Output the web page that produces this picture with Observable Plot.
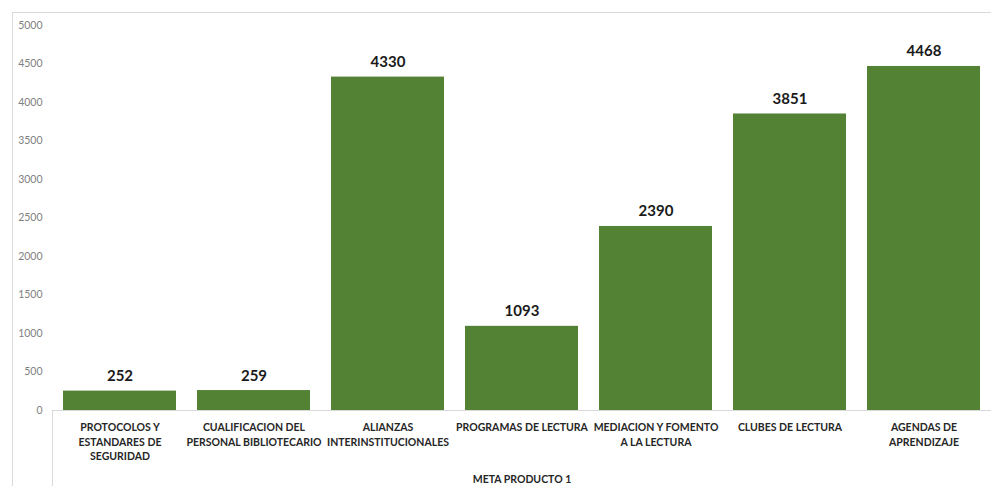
<!DOCTYPE html>
<html>
<head>
<meta charset="utf-8">
<script src="https://cdn.jsdelivr.net/npm/d3@7"></script>
<script src="https://cdn.jsdelivr.net/npm/@observablehq/plot@0.6"></script>
<style>
  html, body { margin: 0; padding: 0; background: #fff; }
  #wrap { position: relative; width: 991px; height: 486px; overflow: hidden; font-family: Lato, "Liberation Sans", sans-serif; }
  #border { position: absolute; left: 12px; top: 12px; right: -2px; bottom: -2px; border-top: 1px solid #d9d9d9; border-left: 1px solid #d9d9d9; }
  #sep { position: absolute; left: 52px; top: 410px; bottom: -2px; width: 0; border-left: 1px solid #d9d9d9; }
  #chart { position: absolute; left: 0; top: 0; }
</style>
</head>
<body>
<div id="wrap">
  <div id="border"></div>
  <div id="sep"></div>
  <div id="chart"></div>
</div>
<script>
const categories = [
  "PROTOCOLOS Y\nESTANDARES DE\nSEGURIDAD",
  "CUALIFICACION DEL\nPERSONAL BIBLIOTECARIO",
  "ALIANZAS\nINTERINSTITUCIONALES",
  "PROGRAMAS DE LECTURA",
  "MEDIACION Y FOMENTO\nA LA LECTURA",
  "CLUBES DE LECTURA",
  "AGENDAS DE\nAPRENDIZAJE"
];
const values = [252, 259, 4330, 1093, 2390, 3851, 4468];
const yTicks = [0, 500, 1000, 1500, 2000, 2500, 3000, 3500, 4000, 4500, 5000];
const groupLabel = "META PRODUCTO 1";

const data = categories.map((c, i) => ({category: c, value: values[i]}));

const chart = Plot.plot({
  width: 991,
  height: 486,
  marginTop: 25,
  marginBottom: 76,
  marginLeft: 52,
  marginRight: 0,
  style: {fontFamily: "Lato, 'Liberation Sans', sans-serif", background: "transparent"},
  x: {domain: categories, paddingInner: 0.16, paddingOuter: 0.074},
  y: {domain: [0, 5000]},
  marks: [
    Plot.ruleY([0], {stroke: "#d9d9d9"}),
    Plot.barY(data, {x: "category", y: "value", fill: "#548235"}),
    Plot.text(data, {x: "category", y: "value", text: d => String(d.value), dy: -10, lineAnchor: "bottom", fontSize: 15, fontWeight: "bold", fill: "#1a1a1a"}),
    Plot.axisY({ticks: yTicks, tickFormat: d => String(d), tickSize: 0, tickPadding: 10, fontSize: 10.5, fill: "#7f7f7f", label: null}),
    Plot.axisX({tickSize: 0, tickPadding: 10, fontSize: 10.5, fontWeight: "bold", fill: "#262626", lineHeight: 1.4, label: groupLabel, labelAnchor: "center", labelOffset: 72})
  ]
});
document.getElementById("chart").appendChild(chart);
d3.select(chart).selectAll("g[aria-label='x-axis label'] text").attr("font-weight", "bold").attr("font-size", 10.5).attr("fill", "#262626");
</script>
</body>
</html>
